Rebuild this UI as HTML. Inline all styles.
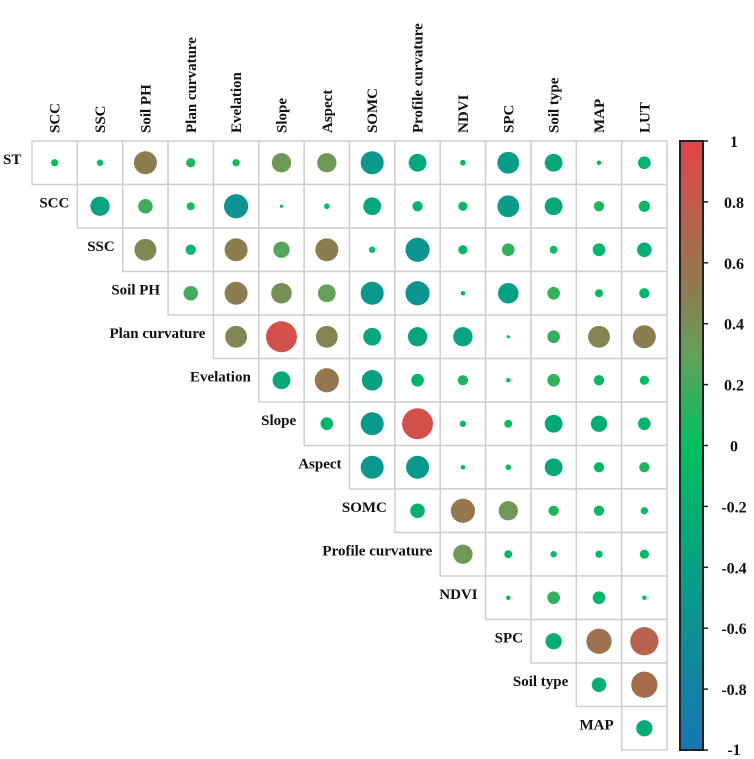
<!DOCTYPE html>
<html><head><meta charset="utf-8"><style>
html,body{margin:0;padding:0;background:#fff;}
svg{display:block;font-family:"Liberation Serif",serif;font-weight:bold;}
</style></head><body>
<svg id="chart" width="754" height="759" viewBox="0 0 754 759" xmlns="http://www.w3.org/2000/svg">
<defs><linearGradient id="cb" x1="0" y1="1" x2="0" y2="0">
<stop offset="0" stop-color="rgb(25,118,180)"/>
<stop offset="0.25" stop-color="rgb(10,152,140)"/>
<stop offset="0.5" stop-color="rgb(0,192,95)"/>
<stop offset="0.65" stop-color="rgb(100,160,90)"/>
<stop offset="0.75" stop-color="rgb(140,125,80)"/>
<stop offset="1" stop-color="rgb(228,68,74)"/>
</linearGradient></defs>
<g id="grid"></g>
<g id="labels"></g>
<rect x="680" y="141" width="23" height="609" fill="url(#cb)" stroke="#222" stroke-width="2"/>
<g id="cbticks"></g>
</svg>
<script>
const colNames = ["SCC","SSC","Soil PH","Plan curvature","Evelation","Slope","Aspect","SOMC","Profile curvature","NDVI","SPC","Soil type","MAP","LUT"];
const rowNames = ["ST","SCC","SSC","Soil PH","Plan curvature","Evelation","Slope","Aspect","SOMC","Profile curvature","NDVI","SPC","Soil type","MAP"];
const rowST = [0.05,0.04,0.5,0.08,0.05,0.35,0.35,-0.5,-0.3,-0.03,-0.45,-0.3,0.02,-0.15];
const rowSCC = [-0.35,0.2,0.06,-0.55,0.01,0.03,-0.3,-0.1,-0.08,-0.45,-0.3,0.1,-0.12];
const rowSSC = [0.45,-0.1,0.5,0.25,0.5,-0.04,-0.55,-0.08,0.15,0.06,-0.15,-0.2];
const rowSoilPH = [0.2,0.5,0.4,0.3,-0.5,-0.55,0.02,-0.4,0.15,-0.06,-0.1];
const rowPlan = [0.45,0.9,0.45,-0.3,-0.35,-0.35,0.01,0.15,0.45,0.5];
const rowEvel = [-0.3,0.55,-0.4,-0.15,0.1,0.02,0.15,-0.1,-0.08];
const rowSlope = [-0.15,-0.5,0.9,0.04,0.06,-0.3,-0.25,-0.15];
const rowAspect = [-0.5,-0.5,0.02,0.03,-0.3,-0.1,0.1];
const rowSOMC = [-0.2,0.55,0.35,0.1,-0.1,-0.05];
const rowProfile = [0.35,-0.06,0.04,-0.05,-0.08];
const rowNDVI = [0.02,0.15,-0.15,0.02];
const rowSPC = [-0.25,0.6,0.75];
const rowSoilType = [-0.2,0.65];
const rowMAP = [-0.25];
const rows = [rowST,rowSCC,rowSSC,rowSoilPH,rowPlan,rowEvel,rowSlope,rowAspect,rowSOMC,rowProfile,rowNDVI,rowSPC,rowSoilType,rowMAP];
const cbTicks = [1,0.8,0.6,0.4,0.2,0,-0.2,-0.4,-0.6,-0.8,-1];

const NS="http://www.w3.org/2000/svg";
const X0=32, CW=45.36, Y0=141, RH=43.5;
function xCol(c){return X0+c*CW;}
function yRow(r){return Y0+r*RH;}
function cbY(v){return 141+(1-v)/2*609;}
function radius(v){return 16.3*Math.sqrt(Math.abs(v));}
const stops=[[-1,[25,118,180]],[-0.5,[10,152,140]],[0,[0,192,95]],[0.3,[100,160,90]],[0.5,[140,125,80]],[1,[228,68,74]]];
function color(v){
  for(let i=0;i<stops.length-1;i++){
    const [v0,c0]=stops[i],[v1,c1]=stops[i+1];
    if(v>=v0&&v<=v1){const t=(v-v0)/(v1-v0);return "rgb("+c0.map((x,j)=>Math.round(x+(c1[j]-x)*t)).join(",")+")";}
  }
  return "rgb(0,192,95)";
}
function mk(tag,attrs,parent){const e=document.createElementNS(NS,tag);for(const k in attrs)e.setAttribute(k,attrs[k]);parent.appendChild(e);return e;}
const grid=document.getElementById('grid'), labels=document.getElementById('labels'), cbt=document.getElementById('cbticks');

rows.forEach((vals,r)=>{
  vals.forEach((v,k)=>{
    const c=r+k;
    const cell=mk('rect',{x:xCol(c),y:yRow(r),width:CW,height:RH,fill:'#fff',stroke:'#cfcfcf','stroke-width':1.5},grid);
    
    
    const dot=mk('circle',{cx:xCol(c)+CW/2,cy:yRow(r)+RH/2,r:radius(v),fill:color(v)},grid);
    
    
  });
  const t=mk('text',{x:r===0?3:xCol(r)-8,y:yRow(r)+RH/2+1,'text-anchor':r===0?'start':'end','font-size':15,fill:'#111'},labels);
  t.textContent=rowNames[r];
  
  
});
colNames.forEach((n,c)=>{
  const cx=xCol(c)+CW/2+5, cy=133;
  const t=mk('text',{x:cx,y:cy,transform:'rotate(-90 '+cx+' '+cy+')','font-size':15,fill:'#111'},labels);
  t.textContent=n;
  
  
});
cbTicks.forEach(v=>{
  const y=cbY(v);
  const l=mk('line',{x1:703,x2:708,y1:y,y2:y,stroke:'#222','stroke-width':1.5},cbt);
  
  
  const t=mk('text',{x:734,y:Math.min(Math.max(y+6,147),755),'text-anchor':'middle','font-size':16,fill:'#111'},cbt);
  t.textContent=String(v);
  
  
});
</script>
</body></html>
